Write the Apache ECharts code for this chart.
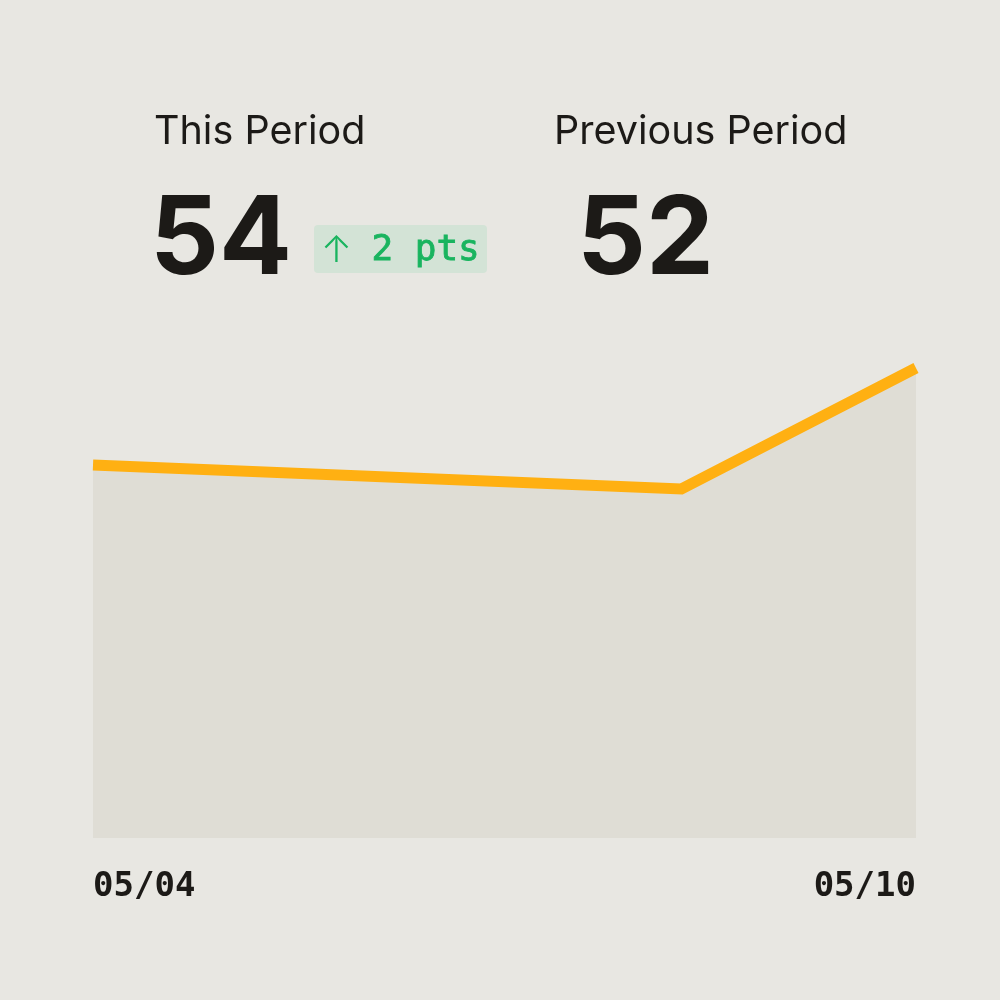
<!DOCTYPE html>
<html>
<head>
<meta charset="utf-8">
<script src="https://cdn.jsdelivr.net/npm/echarts@6/dist/echarts.min.js"></script>
<style>
    html, body { margin: 0; padding: 0; background: #e8e7e2; }
</style>
</head>
<body>
<div id="periodChart" style="width: 1000px; height: 1000px;"></div>
<script>
    // day offset from 05/04 and value
    var dayLabels = ['05/04', '05/05', '05/06', '05/07', '05/08', '05/09', '05/10'];
    var pointDays = [0, 4.29, 6];
    var pointValues = [74.6, 69.8, 94];

    var thisPeriod = 54;
    var previousPeriod = 52;
    var change = thisPeriod - previousPeriod;

    var chartDom = document.getElementById('periodChart');
    var myChart = echarts.init(chartDom);
    var option;

    var seriesData = pointDays.map(function (d, i) {
        return [d, pointValues[i]];
    });

    option = {
        backgroundColor: '#e8e7e2',
        animation: false,
        grid: {
            left: 93,
            right: 84,
            top: 338,
            bottom: 162
        },
        xAxis: {
            type: 'value',
            min: 0,
            max: 6,
            interval: 6,
            axisLine: {show: false},
            axisTick: {show: false},
            splitLine: {show: false},
            axisLabel: {
                margin: 32,
                fontFamily: 'DejaVu Sans Mono',
                fontWeight: 'bold',
                fontSize: 34,
                color: '#1c1a17',
                alignMinLabel: 'left',
                alignMaxLabel: 'right',
                formatter: function (v) {
                    return dayLabels[v];
                }
            }
        },
        yAxis: {
            type: 'value',
            min: 0,
            max: 100,
            show: false
        },
        graphic: [
            {
                type: 'text', left: 154, top: 112,
                style: {text: 'This Period', font: '400 39.5px Inter', fill: '#1c1a17'}
            },
            {
                type: 'text', left: 554, top: 112,
                style: {text: 'Previous Period', font: '400 39.5px Inter', fill: '#1c1a17'}
            },
            {
                type: 'text', left: 150, top: 188,
                style: {text: String(thisPeriod), font: '700 108px Inter', fill: '#1c1a17'}
            },
            {
                type: 'text', left: 577, top: 188,
                style: {text: String(previousPeriod), font: '700 108px Inter', fill: '#1c1a17'}
            },
            {
                type: 'rect',
                shape: {x: 314, y: 225, width: 173, height: 48, r: 4},
                style: {fill: '#d3e3d6'}
            },
            {
                type: 'text', left: 321, top: 232,
                style: {text: '\u2191', font: '300 37px Inter', fill: '#19b45f'}
            },
            {
                type: 'text', left: 371, top: 232,
                style: {
                    text: change + ' pts',
                    font: '400 36px "DejaVu Sans Mono"',
                    fill: '#19b45f',
                    stroke: '#19b45f',
                    lineWidth: 0.8
                }
            }
        ],
        series: [{
            type: 'line',
            data: seriesData,
            showSymbol: false,
            lineStyle: {
                color: '#ffb012',
                width: 11,
                join: 'miter'
            },
            areaStyle: {
                color: '#dfddd5',
                opacity: 1
            }
        }]
    };

    option && myChart.setOption(option);
</script>
</body>
</html>
